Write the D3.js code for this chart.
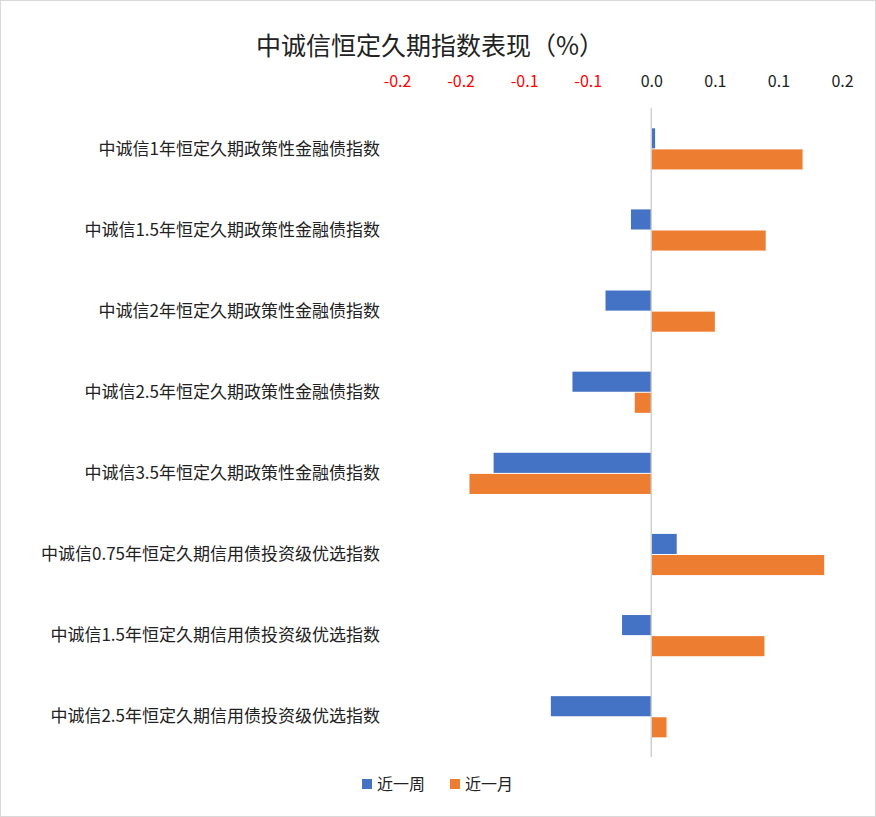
<!DOCTYPE html>
<html><head><meta charset="utf-8">
<script src="https://cdn.jsdelivr.net/npm/d3@7"></script>
<style>body{margin:0;background:#fff;font-family:"Microsoft YaHei","Noto Sans CJK SC",sans-serif}</style>
</head><body><svg id="c" width="876" height="817"></svg>
<script>
const categories=["中诚信1年恒定久期政策性金融债指数","中诚信1.5年恒定久期政策性金融债指数","中诚信2年恒定久期政策性金融债指数","中诚信2.5年恒定久期政策性金融债指数","中诚信3.5年恒定久期政策性金融债指数","中诚信0.75年恒定久期信用债投资级优选指数","中诚信1.5年恒定久期信用债投资级优选指数","中诚信2.5年恒定久期信用债投资级优选指数"];
const seriesNames=["近一周","近一月"];
const week=[0.003,-0.016,-0.036,-0.062,-0.124,0.020,-0.023,-0.079];
const month=[0.119,0.090,0.050,-0.013,-0.143,0.136,0.089,0.012];
const tickValues=[-0.2,-0.15,-0.1,-0.05,0,0.05,0.1,0.15];
const tickLabels=["-0.2","-0.2","-0.1","-0.1","0.0","0.1","0.1","0.2"];
const colors=["#4472C4","#ED7D31"];
const svg=d3.select("#c");
svg.append("rect").attr("x",0.5).attr("y",0.5).attr("width",875).attr("height",816).attr("fill","#fff").attr("stroke","#d9d9d9");
svg.append("text").attr("x",430).attr("y",55).attr("text-anchor","middle").attr("font-size",25).attr("fill","#222").text("中诚信恒定久期指数表现（%）");
const x=d3.scaleLinear().domain([-0.2,0.15]).range([397,842]);
const y=d3.scaleBand().domain(categories).range([108,757]);
const inner=d3.scaleBand().domain(seriesNames).range([y.bandwidth()*0.25,y.bandwidth()*0.77]);
const ax=svg.append("g").attr("transform","translate(0,90)").call(d3.axisTop(x).tickValues(tickValues).tickFormat((d,i)=>tickLabels[i]).tickSize(0));
ax.select(".domain").remove();
ax.selectAll("text").attr("font-size",16).attr("font-family","Microsoft YaHei,Noto Sans CJK SC,sans-serif").attr("fill",(d)=>d<0?"#FF0000":"#222");
[week,month].forEach((vals,si)=>{
 svg.append("g").selectAll("rect").data(vals).join("rect")
 .attr("x",d=>x(Math.min(0,d))).attr("width",d=>Math.abs(x(d)-x(0)))
 .attr("y",(d,i)=>y(categories[i])+inner(seriesNames[si])).attr("height",inner.bandwidth()-1)
 .attr("fill",colors[si]);
});
svg.append("line").attr("x1",x(0)).attr("x2",x(0)).attr("y1",108).attr("y2",757).attr("stroke","#d0d0d0").attr("stroke-width",1.5);
svg.append("g").selectAll("text").data(categories).join("text")
 .attr("x",380).attr("y",d=>y(d)+y.bandwidth()/2+6).attr("text-anchor","end").attr("font-size",17).attr("fill","#222").text(d=>d);
const lg=svg.append("g");
seriesNames.forEach((n,i)=>{
 const lx=362+i*88;
 lg.append("rect").attr("x",lx).attr("y",779).attr("width",10).attr("height",10).attr("fill",colors[i]);
 lg.append("text").attr("x",lx+15).attr("y",790).attr("font-size",16).attr("fill","#222").text(n);
});
</script></body></html>
